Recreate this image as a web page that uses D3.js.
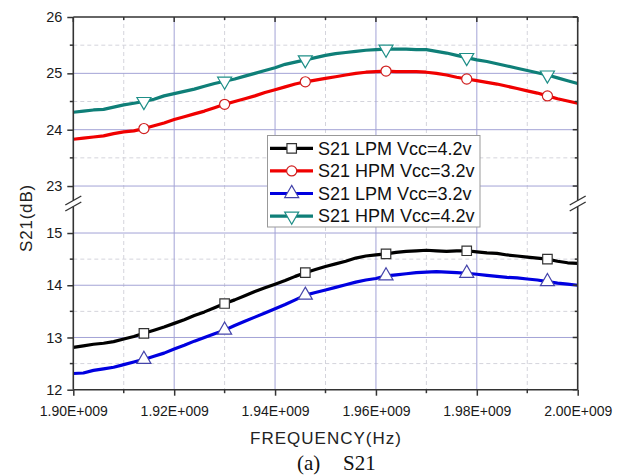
<!DOCTYPE html>
<html><head><meta charset="utf-8">
<script src="https://cdn.jsdelivr.net/npm/d3@7"></script>
<style>body{margin:0;background:#fff}svg{display:block}</style>
</head><body><svg id="c" width="626" height="475"></svg>
<script>
// ---- data ----
const freqMHz = [1900,1902,1904,1906,1908,1910,1912,1914,1916,1918,1920,1922,1924,1926,1928,1930,1932,1934,1936,1938,1940,1942,1944,1946,1948,1950,1952,1954,1956,1958,1960,1962,1964,1966,1968,1970,1972,1974,1976,1978,1980,1982,1984,1986,1988,1990,1992,1994,1996,1998,2000];
const lpm42 = [12.81,12.84,12.87,12.89,12.92,12.97,13.02,13.08,13.14,13.20,13.27,13.34,13.42,13.49,13.57,13.65,13.72,13.80,13.88,13.95,14.02,14.09,14.17,14.24,14.30,14.36,14.41,14.46,14.52,14.56,14.58,14.60,14.63,14.65,14.66,14.67,14.66,14.65,14.66,14.66,14.64,14.62,14.61,14.58,14.56,14.54,14.52,14.50,14.46,14.43,14.42];
const hpm32 = [23.83,23.85,23.87,23.89,23.93,23.96,23.98,24.02,24.07,24.12,24.18,24.23,24.28,24.33,24.39,24.45,24.50,24.55,24.60,24.66,24.71,24.76,24.81,24.85,24.88,24.91,24.94,24.97,25.00,25.02,25.03,25.04,25.03,25.03,25.03,25.02,25.00,24.97,24.93,24.90,24.87,24.84,24.81,24.77,24.73,24.69,24.65,24.60,24.55,24.51,24.47];
const lpm32 = [12.31,12.32,12.37,12.40,12.43,12.48,12.53,12.58,12.64,12.70,12.78,12.85,12.93,13.00,13.07,13.14,13.23,13.31,13.39,13.47,13.55,13.63,13.72,13.81,13.86,13.91,13.96,14.01,14.06,14.10,14.13,14.18,14.20,14.22,14.24,14.25,14.26,14.25,14.24,14.23,14.21,14.19,14.17,14.15,14.14,14.12,14.10,14.07,14.04,14.02,14.00];
const hpm42 = [24.31,24.33,24.35,24.36,24.40,24.44,24.47,24.50,24.54,24.60,24.64,24.68,24.72,24.77,24.82,24.86,24.90,24.95,25.00,25.05,25.10,25.16,25.20,25.24,25.28,25.32,25.35,25.37,25.39,25.41,25.42,25.43,25.43,25.43,25.42,25.42,25.39,25.36,25.32,25.28,25.24,25.21,25.17,25.13,25.09,25.05,25.01,24.97,24.92,24.87,24.82];
const markerIdx = [7,15,23,31,39,47];
const seriesNames = ["S21 LPM Vcc=4.2v","S21 HPM Vcc=3.2v","S21 LPM Vcc=3.2v","S21 HPM Vcc=4.2v"];
const xMajorTicks = [1.90e9,1.92e9,1.94e9,1.96e9,1.98e9,2.00e9];
const xMinorTicks = [1.91e9,1.93e9,1.95e9,1.97e9,1.99e9];
const yTopMajor = [23,24,25,26];
const yTopMinor = [23.5,24.5,25.5];
const yBotMajor = [12,13,14,15];
const yBotMinor = [12.5,13.5,14.5];

// ---- layout ----
const svg = d3.select("#c");
const L = 73.3, R = 577.7, T = 17, B = 389.7;
const topEnd = 199, botStart = 209;
const x = d3.scaleLinear().domain([1.90e9, 2.00e9]).range([L, R]);
const yTop = d3.scaleLinear().domain([22.77, 26]).range([topEnd, T]);
const yBot = d3.scaleLinear().domain([12, 15.46]).range([B, botStart]);
const font = "'Liberation Sans', Arial, sans-serif";

const series = [
  {name: seriesNames[0], vals: lpm42, y: yBot, color: "#000000", mstroke: "#333333", shape: d3.symbolSquare},
  {name: seriesNames[1], vals: hpm32, y: yTop, color: "#f00000", mstroke: "#d02020", shape: d3.symbolCircle},
  {name: seriesNames[2], vals: lpm32, y: yBot, color: "#0000e0", mstroke: "#4444aa", shape: "up"},
  {name: seriesNames[3], vals: hpm42, y: yTop, color: "#0f7f78", mstroke: "#1f8f88", shape: "down"}
];

// ---- grid ----
const g = svg.append("g");
const major = "#a3a3d6", minor = "#d4d4dc";
xMinorTicks.forEach(v => g.append("line").attr("x1", x(v)).attr("x2", x(v)).attr("y1", T).attr("y2", B)
  .attr("stroke", minor).attr("stroke-dasharray", "4,3").attr("stroke-width", 1));
yTopMinor.forEach(v => g.append("line").attr("x1", L).attr("x2", R).attr("y1", yTop(v)).attr("y2", yTop(v))
  .attr("stroke", minor).attr("stroke-dasharray", "4,3"));
yBotMinor.forEach(v => g.append("line").attr("x1", L).attr("x2", R).attr("y1", yBot(v)).attr("y2", yBot(v))
  .attr("stroke", minor).attr("stroke-dasharray", "4,3"));
xMajorTicks.slice(1, -1).forEach(v => g.append("line").attr("x1", x(v)).attr("x2", x(v)).attr("y1", T).attr("y2", B)
  .attr("stroke", major).attr("stroke-width", 1));
yTopMajor.slice(0, -1).forEach(v => g.append("line").attr("x1", L).attr("x2", R).attr("y1", yTop(v)).attr("y2", yTop(v))
  .attr("stroke", major));
yBotMajor.slice(1).forEach(v => g.append("line").attr("x1", L).attr("x2", R).attr("y1", yBot(v)).attr("y2", yBot(v))
  .attr("stroke", major));

// ---- lines ----
function markerPath(shape, size) {
  if (shape === "up" || shape === "down") return d3.symbol(d3.symbolTriangle, size)();
  return d3.symbol(shape, size)();
}
series.forEach(s => {
  const line = d3.line().x((d, i) => x(freqMHz[i] * 1e6)).y(d => s.y(d)).curve(d3.curveLinear);
  svg.append("path").datum(s.vals).attr("d", line).attr("fill", "none")
    .attr("stroke", s.color).attr("stroke-width", 3.2).attr("stroke-linejoin", "round");
});
series.forEach(s => {
  markerIdx.forEach(i => {
    const sz = s.shape === d3.symbolCircle ? 80 : (s.shape === d3.symbolSquare ? 90 : 85);
    svg.append("path").attr("d", markerPath(s.shape, sz))
      .attr("transform", `translate(${x(freqMHz[i] * 1e6)},${s.y(s.vals[i])})` + (s.shape === "down" ? " rotate(180)" : ""))
      .attr("fill", "#fff").attr("stroke", s.mstroke).attr("stroke-width", 1.2);
  });
});

// ---- axes ----
const axc = "#333";
const fmt = v => (v / 1e9).toFixed(2) + "E+009";
const xb = svg.append("g").attr("transform", `translate(0,${B})`)
  .call(d3.axisBottom(x).tickValues(xMajorTicks).tickFormat(fmt).tickSize(6).tickSizeOuter(0));
xb.select(".domain").remove();
xb.selectAll(".tick line").attr("stroke", axc).attr("stroke-width", 1.5);
xb.selectAll("text").attr("font-family", font).attr("font-size", 14).attr("fill", "#1a1a1a").attr("dy", "1.25em");
xMinorTicks.forEach(v => svg.append("line").attr("x1", x(v)).attr("x2", x(v)).attr("y1", B).attr("y2", B + 3.5)
  .attr("stroke", axc).attr("stroke-width", 1.5));
xMajorTicks.forEach(v => svg.append("line").attr("x1", x(v)).attr("x2", x(v)).attr("y1", T).attr("y2", T + 5).attr("stroke", axc).attr("stroke-width", 1.5));
xMinorTicks.forEach(v => svg.append("line").attr("x1", x(v)).attr("x2", x(v)).attr("y1", T).attr("y2", T + 3).attr("stroke", axc).attr("stroke-width", 1.5));

function yAxes(scale, majors, minors) {
  const gl = svg.append("g").attr("transform", `translate(${L},0)`)
    .call(d3.axisLeft(scale).tickValues(majors).tickFormat(d3.format("d")).tickSize(6).tickSizeOuter(0));
  gl.select(".domain").remove();
  gl.selectAll(".tick line").attr("stroke", axc).attr("stroke-width", 1.5);
  gl.selectAll("text").attr("font-family", font).attr("font-size", 14.5).attr("fill", "#1a1a1a").attr("x", -11);
  minors.forEach(v => svg.append("line").attr("x1", L - 3.5).attr("x2", L).attr("y1", scale(v)).attr("y2", scale(v)).attr("stroke", axc).attr("stroke-width", 1.5));
  majors.forEach(v => svg.append("line").attr("x1", R - 5).attr("x2", R).attr("y1", scale(v)).attr("y2", scale(v)).attr("stroke", axc).attr("stroke-width", 1.5));
  minors.forEach(v => svg.append("line").attr("x1", R - 3).attr("x2", R).attr("y1", scale(v)).attr("y2", scale(v)).attr("stroke", axc).attr("stroke-width", 1.5));
}
yAxes(yTop, yTopMajor, yTopMinor);
yAxes(yBot, yBotMajor, yBotMinor);

// frame lines with break gap
const gapTop = 200.5, gapBot = 206.5;
[[L, T, L, gapTop], [L, gapBot, L, B], [R, T, R, gapTop], [R, gapBot, R, B], [L, T, R, T], [L, B, R, B]]
  .forEach(([a, b, c, d]) => svg.append("line").attr("x1", a).attr("y1", b).attr("x2", c).attr("y2", d)
    .attr("stroke", axc).attr("stroke-width", 1.6));
[L, R].forEach(ax => {
  [gapTop, gapBot].forEach(yy => {
    svg.append("line").attr("x1", ax - 8).attr("y1", yy + 4.5).attr("x2", ax + 8).attr("y2", yy - 4.5)
      .attr("stroke", axc).attr("stroke-width", 1.4);
  });
});

// ---- titles ----
svg.append("text").attr("x", 326).attr("y", 444).attr("text-anchor", "middle")
  .attr("font-family", font).attr("font-size", 17).attr("letter-spacing", 1).attr("fill", "#222").text("FREQUENCY(Hz)");
svg.append("text").attr("transform", "translate(32,218) rotate(-90)").attr("text-anchor", "middle")
  .attr("font-family", font).attr("font-size", 17).attr("letter-spacing", 0.8).attr("fill", "#222").text("S21(dB)");
const cap = svg.append("text").attr("y", 470).attr("font-family", "'Liberation Serif', 'Times New Roman', serif")
  .attr("font-size", 21).attr("fill", "#111");
cap.append("tspan").attr("x", 297).text("(a)");
cap.append("tspan").attr("x", 343).text("S21");

// ---- legend ----
const lg = svg.append("g");
lg.append("rect").attr("x", 267.5).attr("y", 135.5).attr("width", 212.5).attr("height", 91.5)
  .attr("fill", "#fff").attr("stroke", "#999").attr("stroke-width", 1);
series.forEach((s, i) => {
  const yy = 148.3 + i * 22.6;
  lg.append("line").attr("x1", 270).attr("x2", 313).attr("y1", yy).attr("y2", yy)
    .attr("stroke", s.color).attr("stroke-width", 3.2);
  const sz = s.shape === d3.symbolCircle ? 80 : (s.shape === d3.symbolSquare ? 90 : 85);
  lg.append("path").attr("d", markerPath(s.shape, sz))
    .attr("transform", `translate(291.7,${yy})` + (s.shape === "down" ? " rotate(180)" : ""))
    .attr("fill", "#fff").attr("stroke", s.mstroke).attr("stroke-width", 1.2);
  lg.append("text").attr("x", 318).attr("y", yy + 6.3).attr("font-family", font).attr("font-size", 18)
    .attr("fill", "#111").text(s.name);
});
</script>
</body></html>
